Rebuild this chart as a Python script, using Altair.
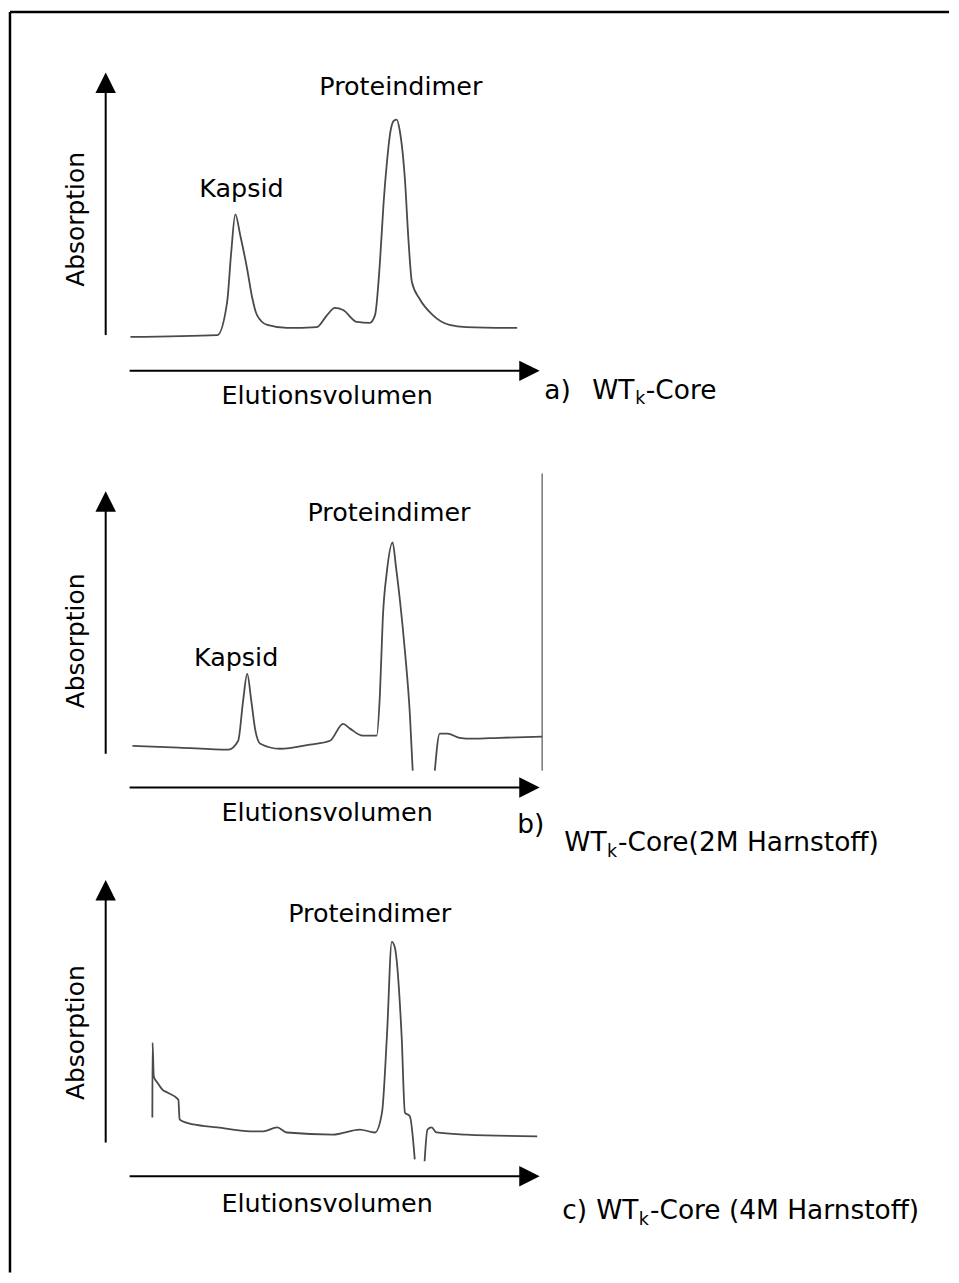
import altair as alt
import pandas as pd

# ---------------- data ----------------
# x: elution volume (0 = start of the x-arrow, 100 = its tip)
# y: absorption     (0 = level of the x-arrow, 100 = tip of the y-arrow)

# a) WTk-Core
A_ELUTION = [0.2, 21.4, 23.8, 24.8, 25.8, 27.0, 28.7, 29.9, 31.1, 33.6,
             38.4, 45.7, 48.2, 50.1, 52.1, 55.5, 58.6, 59.9, 61.1, 62.0,
             62.8, 63.7, 64.5, 65.2, 65.9, 67.2, 68.1, 68.9, 70.8, 74.0,
             78.1, 82.2, 94.6]
A_ABSORPTION = [11.4, 12.0, 23.1, 39.8, 52.5, 45.5, 34.1, 24.7, 18.7, 15.4,
                14.4, 14.7, 18.7, 21.1, 20.4, 16.4, 16.1, 18.7, 36.5, 56.5,
                69.9, 80.6, 83.9, 84.3, 80.9, 64.2, 43.1, 29.8, 24.1, 18.7,
                15.4, 14.7, 14.4]

# b) WTk-Core (2M Harnstoff) - trace leaves the recorder window between the two parts
B1_ELUTION = [0.7, 12.0, 24.1, 26.5, 27.7, 28.7, 29.7, 30.7, 31.9, 36.7,
              44.0, 48.9, 52.1, 53.8, 56.9, 60.3, 61.1, 61.8, 62.8, 64.2,
              65.0, 66.0, 67.2, 68.4, 69.1]
B1_ABSORPTION = [14.1, 13.5, 12.8, 15.8, 29.3, 38.4, 29.3, 19.2, 14.8, 13.1,
                 14.5, 15.8, 21.5, 19.9, 17.5, 17.5, 31.6, 57.2, 73.0, 82.8,
                 74.7, 63.0, 46.1, 24.9, 5.7]
B2_ELUTION = [74.5, 75.7, 77.6, 80.5, 83.7, 90.3, 100.7]
B2_ABSORPTION = [5.7, 18.2, 18.2, 16.8, 16.5, 16.8, 17.2]

# c) WTk-Core (4M Harnstoff)
C1_ELUTION = [5.55, 5.6, 5.9, 6.8, 8.0, 9.2, 11.9, 12.2, 13.6, 15.6,
              21.4, 29.4, 32.6, 36.0, 38.4, 49.6, 56.2, 59.9, 61.6, 62.8,
              64.0, 64.7, 66.4, 67.2, 68.4, 69.6]
C1_ABSORPTION = [19.9, 45.1, 33.7, 31.6, 29.3, 28.3, 25.9, 19.2, 18.2, 17.5,
                 16.5, 15.2, 15.2, 16.5, 14.8, 14.1, 15.8, 14.8, 21.5, 47.2,
                 79.2, 77.5, 47.2, 21.5, 20.3, 5.7]
C2_ELUTION = [72.0, 72.7, 73.7, 74.9, 82.2, 99.5]
C2_ABSORPTION = [5.1, 15.8, 16.5, 14.8, 14.1, 13.5]

Y_TITLE = "Absorption"
X_TITLE = "Elutionsvolumen"
CAPTION_PREFIX = ["a)", "b)", "c)"]
CAPTION_MAIN = "WT"
CAPTION_SUB = "k"
CAPTION_REST = ["-Core", "-Core(2M Harnstoff)", "-Core (4M Harnstoff)"]

FONT = "DejaVu Sans"
FS = 25.5        # peak labels / axis names
FS_AXIS_Y = 25
FS_CAP = 26.5    # captions
FS_SUB = 17.5
TRACE = "#4a4a4a"

XS = alt.Scale(domain=[0, 100], range=[121, 532])


def trace_df(parts):
    rows = []
    for s, (xs, ys) in enumerate(parts):
        for i, (x, y) in enumerate(zip(xs, ys)):
            rows.append({"v": x, "a": y, "seg": s, "i": i})
    return pd.DataFrame(rows)


def panel(parts, yrange, height, y_arrow_bottom, peak_labels, abs_y, elu_y,
          caption, extra_rules=None, frame=None):
    ys = alt.Scale(domain=[0, 100], range=yrange)
    X = alt.X("v:Q", scale=XS, axis=None)
    Y = alt.Y("a:Q", scale=ys, axis=None)

    rules = [
        {"v": -5.84, "a": y_arrow_bottom, "v2": -5.84, "a2": 97.0, "w": 2, "c": "black"},
        {"v": 0.0, "a": 0.0, "v2": 97.0, "a2": 0.0, "w": 2, "c": "black"},
    ]
    if frame:
        rules += frame
    if extra_rules:
        rules += extra_rules
    rule_layer = alt.Chart(pd.DataFrame(rules)).mark_rule(strokeCap="butt").encode(
        x=X, y=Y, x2="v2:Q", y2="a2:Q",
        strokeWidth=alt.StrokeWidth("w:Q", scale=None),
        color=alt.Color("c:N", scale=None),
    )

    line_layer = alt.Chart(trace_df(parts)).mark_line(
        color=TRACE, strokeWidth=1.8, strokeJoin="round", interpolate="monotone"
    ).encode(x=X, y=Y, detail="seg:N", order="i:Q")

    heads = pd.DataFrame([
        {"v": -5.84, "a": 100 - 10 * 100 / (yrange[0] - yrange[1]), "s": "M0,-1L1,1L-1,1Z"},
        {"v": 97.6, "a": 0.0, "s": "M-1,-1L1,0L-1,1Z"},
    ])
    head_layer = alt.Chart(heads).mark_point(
        filled=True, color="black", opacity=1, size=420, strokeWidth=0
    ).encode(x=X, y=Y, shape=alt.Shape("s:N", scale=None))

    lab_df = pd.DataFrame(peak_labels + [{"t": X_TITLE, "v": 48.2, "a": elu_y}])
    lab_layer = alt.Chart(lab_df).mark_text(
        font=FONT, fontSize=FS, align="center", baseline="alphabetic", color="black"
    ).encode(x=X, y=Y, text="t:N")

    abs_layer = alt.Chart(pd.DataFrame([{"t": Y_TITLE, "v": -13.1, "a": abs_y}])).mark_text(
        font=FONT, fontSize=FS_AXIS_Y, align="center", baseline="middle", angle=270, color="black"
    ).encode(x=X, y=Y, text="t:N")

    cap_layer = alt.Chart(pd.DataFrame(caption)).mark_text(
        font=FONT, align="left", baseline="alphabetic", color="black"
    ).encode(x=X, y=Y, text="t:N", size=alt.Size("fs:Q", scale=None))

    return alt.layer(rule_layer, line_layer, head_layer, lab_layer, abs_layer, cap_layer).properties(
        width=943, height=height
    )


def caption(i, v_prefix, a_prefix, v_main, a_main, v_sub, v_rest):
    return [
        {"t": CAPTION_PREFIX[i], "v": v_prefix, "a": a_prefix, "fs": FS_CAP},
        {"t": CAPTION_MAIN, "v": v_main, "a": a_main, "fs": FS_CAP},
        {"t": CAPTION_SUB, "v": v_sub, "a": a_main - 1.8, "fs": FS_SUB},
        {"t": CAPTION_REST[i], "v": v_rest, "a": a_main, "fs": FS_CAP},
    ]


pa = panel(
    [(A_ELUTION, A_ABSORPTION)], [361, 62], 420, 12.0,
    [{"t": "Kapsid", "v": 27.3, "a": 58.2}, {"t": "Proteindimer", "v": 66.2, "a": 92.6}],
    50.8, -11.0,
    caption(0, 101.2, -9.4, 112.9, -9.4, 123.4, 126.0),
    frame=[
        {"v": -29.2, "a": 120.4, "v2": 200.0, "a2": 120.4, "w": 2.5, "c": "black"},
        {"v": -29.2, "a": 120.4, "v2": -29.2, "a2": -302.5, "w": 2.5, "c": "black"},
    ],
)

pb = panel(
    [(B1_ELUTION, B1_ABSORPTION), (B2_ELUTION, B2_ABSORPTION)], [359, 62], 420, 11.4,
    [{"t": "Kapsid", "v": 26.0, "a": 41.1}, {"t": "Proteindimer", "v": 63.3, "a": 89.9}],
    49.5, -11.4,
    caption(1, 94.6, -15.5, 106.1, -21.5, 116.5, 119.2),
    extra_rules=[{"v": 100.7, "a": 5.7, "v2": 100.7, "a2": 106.1, "w": 1.5, "c": "#777777"}],
)

pc = panel(
    [(C1_ELUTION, C1_ABSORPTION), (C2_ELUTION, C2_ABSORPTION)], [329, 32], 427, 11.4,
    [{"t": "Proteindimer", "v": 58.6, "a": 85.9}],
    48.5, -12.1,
    caption(2, 105.6, -14.5, 113.9, -14.5, 124.3, 127.0),
)

chart = alt.vconcat(pa, pb, pc, spacing=0, bounds="flush").properties(
    padding=0, background="white"
).configure_view(strokeWidth=0)

chart.save("out.html", embed_options={"renderer": "svg", "actions": False})
